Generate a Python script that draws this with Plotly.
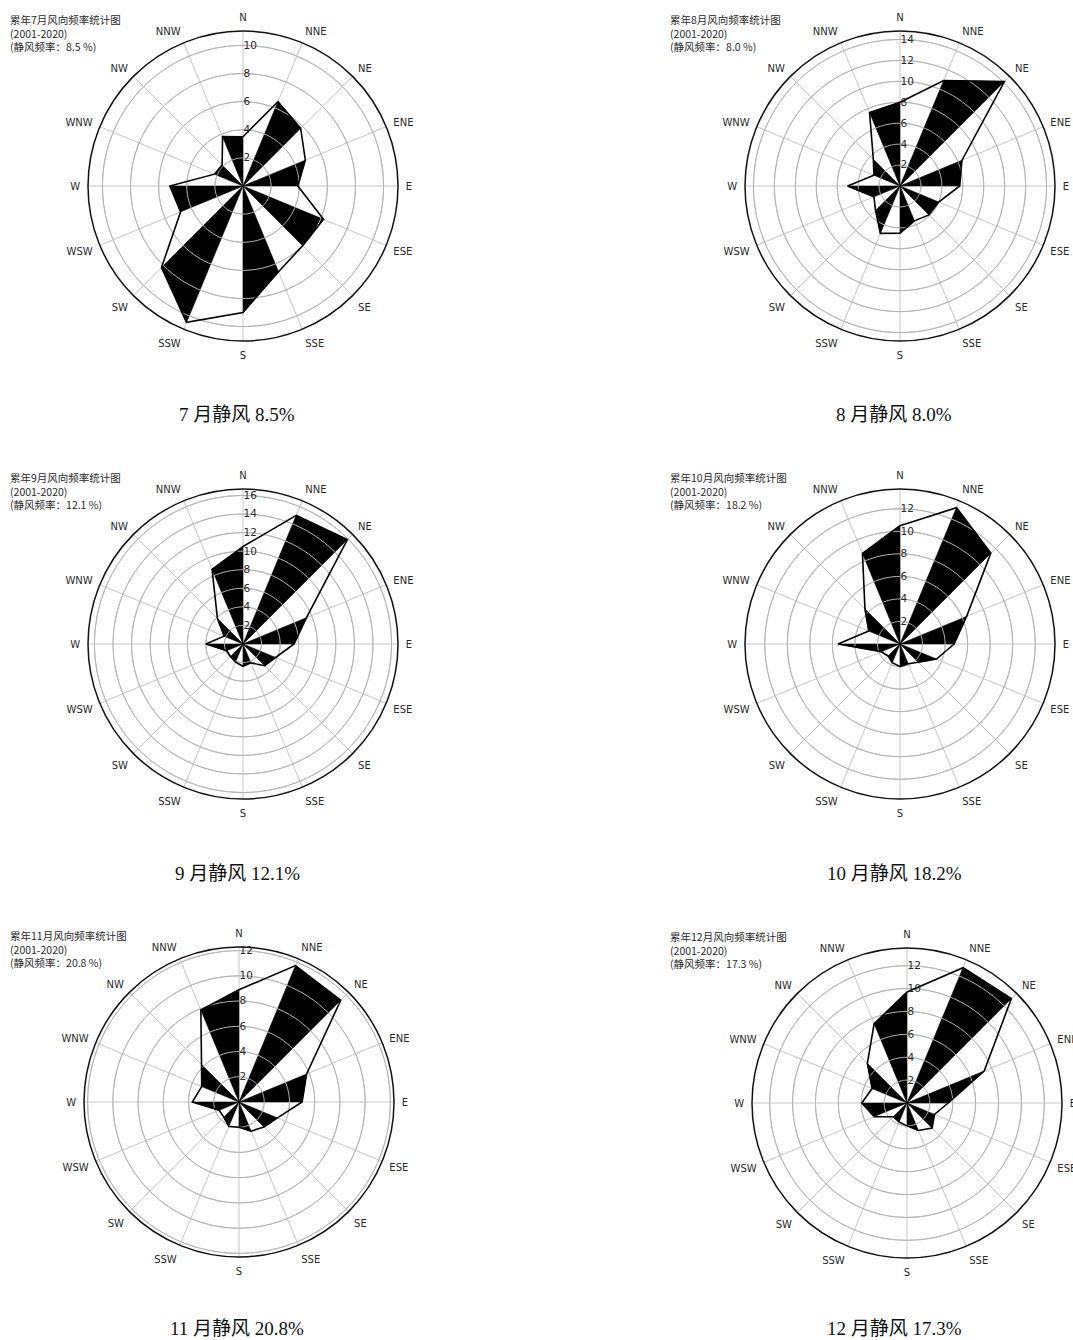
import plotly.graph_objects as go

# 16 compass directions, clockwise from north
DIRECTIONS = ["N", "NNE", "NE", "ENE", "E", "ESE", "SE", "SSE",
              "S", "SSW", "SW", "WSW", "W", "WNW", "NW", "NNW"]
ANGLES = [i * 22.5 for i in range(16)]

# Wind direction frequency (%) per month, 2001-2020
freq_jul = [3.5, 6.5, 5.8, 4.8, 3.9, 6.2, 6.0, 6.6, 9.0, 10.5, 8.2, 4.8, 5.2, 2.2, 2.1, 3.8]
freq_aug = [8.0, 10.9, 14.1, 6.4, 5.7, 4.0, 3.9, 3.6, 4.5, 4.9, 3.3, 2.7, 5.0, 2.7, 3.6, 7.6]
freq_sep = [10.5, 15.0, 15.9, 7.4, 5.5, 3.8, 3.3, 2.2, 2.4, 2.1, 1.9, 1.9, 4.0, 2.2, 3.9, 8.7]
freq_oct = [10.5, 13.1, 11.4, 6.4, 4.8, 3.5, 2.3, 1.9, 2.0, 1.8, 1.5, 1.8, 5.5, 3.0, 4.4, 8.7]
freq_nov = [8.9, 11.7, 11.4, 5.8, 5.0, 3.3, 2.8, 2.5, 2.0, 2.1, 1.7, 1.7, 3.7, 3.2, 4.2, 7.9]
freq_dec = [9.7, 12.8, 12.9, 7.3, 3.6, 2.6, 3.1, 2.6, 2.0, 1.8, 1.7, 3.1, 3.95, 3.3, 4.9, 7.5]

months = [7, 8, 9, 10, 11, 12]
calm_rates = [8.5, 8.0, 12.1, 18.2, 20.8, 17.3]
radial_ticks = [
    [2, 4, 6, 8, 10],
    [2, 4, 6, 8, 10, 12, 14],
    [2, 4, 6, 8, 10, 12, 14, 16],
    [2, 4, 6, 8, 10, 12],
    [2, 4, 6, 8, 10, 12],
    [2, 4, 6, 8, 10, 12],
]
series = [freq_jul, freq_aug, freq_sep, freq_oct, freq_nov, freq_dec]

W, H = 1073, 1340
R = 155  # polar radius in px
centers = [(243, 186), (900, 186), (243, 644), (900, 644), (239, 1102), (907, 1103)]

GRID = "#c6c6c6"
TXT = "#2a2a2a"

fig = go.Figure()
layout = dict(
    width=W, height=H, margin=dict(l=0, r=0, t=0, b=0),
    paper_bgcolor="white", plot_bgcolor="white", showlegend=False,
    annotations=[],
)

for k, (vals, month, calm, ticks, (cx, cy)) in enumerate(
        zip(series, months, calm_rates, radial_ticks, centers)):
    pname = "polar" if k == 0 else f"polar{k + 1}"
    sub = pname
    rmax = max(vals) * 1.05

    # alternating black wedges: NNW-N, NNE-NE, ENE-E, ...
    rr, tt = [], []
    for i in range(1, 16, 2):
        j = (i + 1) % 16
        rr += [0, vals[i], vals[j], 0, None]
        tt += [ANGLES[i], ANGLES[i], ANGLES[j], ANGLES[i], None]
    fig.add_trace(go.Scatterpolar(
        r=rr, theta=tt, mode="lines", fill="toself", fillcolor="black",
        line=dict(color="black", width=0.5), connectgaps=False,
        subplot=sub, hoverinfo="skip"))

    # range rings drawn over the wedges
    circ_t = [i * 3 for i in range(121)]
    for t in ticks:
        fig.add_trace(go.Scatterpolar(
            r=[t] * len(circ_t), theta=circ_t, mode="lines",
            line=dict(color="#b4b4b4", width=1), subplot=sub, hoverinfo="skip"))

    # outline connecting every direction
    fig.add_trace(go.Scatterpolar(
        r=vals + [vals[0]], theta=ANGLES + [360], mode="lines",
        line=dict(color="black", width=1.6), subplot=sub,
        name=f"{month}月"))

    layout[pname] = dict(
        domain=dict(x=[(cx - R) / W, (cx + R) / W],
                    y=[1 - (cy + R) / H, 1 - (cy - R) / H]),
        bgcolor="white",
        angularaxis=dict(
            rotation=90, direction="clockwise",
            tickmode="array", tickvals=ANGLES, ticktext=DIRECTIONS,
            showline=True, linecolor="#111", linewidth=1.5,
            gridcolor=GRID, gridwidth=1,
            ticks="outside", ticklen=5, tickcolor="rgba(0,0,0,0)",
            tickfont=dict(family="DejaVu Sans", size=10, color=TXT)),
        radialaxis=dict(
            range=[0, rmax], tickmode="array", tickvals=ticks,
            showline=False, gridcolor=GRID, gridwidth=1, ticks="",
            angle=90, tickangle=90, side="clockwise",
            tickfont=dict(family="DejaVu Sans", size=10.5, color=TXT)),
    )

    # chart heading, top-left of each panel
    col_left = 8 if cx < 500 else 668
    heading = (f"累年{month}月风向频率统计图<br>(2001-2020)<br>"
               f"(静风频率：{calm:.1f} %)")
    layout["annotations"].append(dict(
        x=col_left / W, y=1 - (cy - 176) / H, xref="paper", yref="paper",
        xanchor="left", yanchor="top", align="left", showarrow=False,
        text=heading,
        font=dict(family="Noto Sans CJK SC", size=10.5, color=TXT)))

    # caption below each panel
    cap_x = 237 if cx < 500 else 894
    cap_y = min(cy + 229, 1328)
    layout["annotations"].append(dict(
        x=cap_x / W, y=1 - cap_y / H, xref="paper", yref="paper",
        xanchor="center", yanchor="middle", showarrow=False,
        text=f"{month} 月静风 {calm:.1f}%",
        font=dict(family="Liberation Serif, Noto Sans CJK SC", size=19,
                  color="#111")))

fig.update_layout(**layout)
fig.write_html("out.html")
